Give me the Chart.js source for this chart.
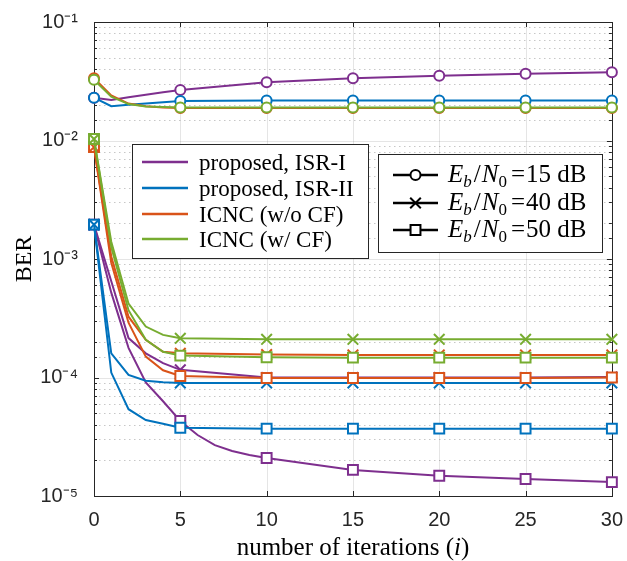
<!DOCTYPE html>
<html><head><meta charset="utf-8">
<script src="https://cdn.jsdelivr.net/npm/chart.js@4/dist/chart.umd.min.js"></script>
<style>html,body{margin:0;padding:0;background:#fff}#wrap{width:627px;height:561px;position:relative}</style>
</head><body><div id="wrap"><canvas id="c" width="627" height="561"></canvas></div>
<script>
// ---------- data ----------
const iters = [0, 1, 2, 3, 4, 5, 10, 15, 20, 25, 30];
const itersFine = [0, 1, 2, 3, 4, 5, 6, 7, 8, 9, 10, 15, 20, 25, 30];
const xTicks = [0, 5, 10, 15, 20, 25, 30];
const methodNames = ['proposed, ISR-I', 'proposed, ISR-II', 'ICNC (w/o CF)', 'ICNC (w/ CF)'];
const snrValues = ['15', '40', '50'];

// Eb/N0 = 15 dB
const isr1_15 = [0.023, 0.022, 0.0232, 0.0243, 0.0255, 0.0267, 0.031, 0.0335, 0.0352, 0.0366, 0.0376];
const isr2_15 = [0.023, 0.0195, 0.0200, 0.0205, 0.0210, 0.0215, 0.0218, 0.0218, 0.0218, 0.0218, 0.0218];
const icncNoCf_15 = [0.0335, 0.0240, 0.0205, 0.0195, 0.0190, 0.0188, 0.0188, 0.0188, 0.0188, 0.0188, 0.0188];
const icncCf_15 = [0.0325, 0.0234, 0.0203, 0.0194, 0.0192, 0.0190, 0.0190, 0.0190, 0.0190, 0.0190, 0.0190];
// Eb/N0 = 40 dB
const isr1_40 = [0.00195, 6.5e-4, 2.15e-4, 1.6e-4, 1.32e-4, 1.16e-4, 1.0e-4, 1.0e-4, 1.0e-4, 1.0e-4, 1.01e-4];
const isr2_40 = [0.00195, 1.6e-4, 1.05e-4, 9.4e-5, 9.1e-5, 9.0e-5, 9.0e-5, 9.0e-5, 9.0e-5, 9.0e-5, 9.0e-5];
const icncNoCf_40 = [0.0088, 1.05e-3, 3.26e-4, 2.08e-4, 1.65e-4, 1.6e-4, 1.56e-4, 1.55e-4, 1.55e-4, 1.55e-4, 1.55e-4];
const icncCf_40 = [0.0103, 1.4e-3, 4.2e-4, 2.69e-4, 2.29e-4, 2.14e-4, 2.1e-4, 2.1e-4, 2.1e-4, 2.1e-4, 2.1e-4];
// Eb/N0 = 50 dB
const isr1_50 = [0.00195, 5.2e-4, 1.78e-4, 9.1e-5, 6.3e-5, 4.3e-5, 3.27e-5, 2.69e-5, 2.4e-5, 2.22e-5, 2.09e-5, 1.66e-5, 1.48e-5, 1.39e-5, 1.31e-5];
const isr2_50 = [0.00195, 1.1e-4, 5.4e-5, 4.37e-5, 4.07e-5, 3.77e-5, 3.7e-5, 3.7e-5, 3.7e-5, 3.7e-5, 3.7e-5];
const icncNoCf_50 = [0.0088, 9.3e-4, 2.9e-4, 1.5e-4, 1.15e-4, 1.03e-4, 9.9e-5, 9.9e-5, 9.9e-5, 9.9e-5, 1.0e-4];
const icncCf_50 = [0.0103, 1.26e-3, 3.7e-4, 2.08e-4, 1.65e-4, 1.53e-4, 1.48e-4, 1.47e-4, 1.47e-4, 1.47e-4, 1.47e-4];

// ---------- styling ----------
const COLORS = ['#7E2F8E', '#0072BD', '#D95319', '#77AC30'];
const MARKERS = ['circle', 'crossRot', 'rect'];
const MARKER_R = { circle: 5, crossRot: 7.5, rect: 7 };
const SANS = '"Liberation Sans", Arial, sans-serif';
const SERIF = '"Liberation Serif", "Times New Roman", serif';

function mk(label, xs, ys, colorIdx, markerIdx) {
  const marker = MARKERS[markerIdx];
  return {
    label,
    data: xs.map((x, i) => ({ x, y: ys[i] })),
    borderColor: COLORS[colorIdx],
    backgroundColor: '#ffffff',
    borderWidth: 2,
    pointStyle: marker,
    pointRadius: (ctx) => (ctx.raw && ctx.raw.x % 5 === 0) ? MARKER_R[marker] : 0,
    pointHoverRadius: 0,
    pointBorderWidth: 2,
    pointBackgroundColor: '#ffffff',
    pointBorderColor: COLORS[colorIdx],
    tension: 0,
    fill: false,
    clip: false
  };
}

// drawn order: earlier datasets on top in Chart.js -> green first
const datasets = [
  mk('ICNC (w/ CF), 15 dB', iters, icncCf_15, 3, 0),
  mk('ICNC (w/ CF), 40 dB', iters, icncCf_40, 3, 1),
  mk('ICNC (w/ CF), 50 dB', iters, icncCf_50, 3, 2),
  mk('ICNC (w/o CF), 15 dB', iters, icncNoCf_15, 2, 0),
  mk('ICNC (w/o CF), 40 dB', iters, icncNoCf_40, 2, 1),
  mk('ICNC (w/o CF), 50 dB', iters, icncNoCf_50, 2, 2),
  mk('proposed, ISR-II, 15 dB', iters, isr2_15, 1, 0),
  mk('proposed, ISR-II, 40 dB', iters, isr2_40, 1, 1),
  mk('proposed, ISR-II, 50 dB', iters, isr2_50, 1, 2),
  mk('proposed, ISR-I, 15 dB', iters, isr1_15, 0, 0),
  mk('proposed, ISR-I, 40 dB', iters, isr1_40, 0, 1),
  mk('proposed, ISR-I, 50 dB', itersFine, isr1_50, 0, 2)
];

const SUP = { '-': '\u207B', '0': '\u2070', '1': '\u00B9', '2': '\u00B2', '3': '\u00B3', '4': '\u2074', '5': '\u2075' };
function isDecade(v) { const e = Math.round(Math.log10(v)); return Math.abs(v / Math.pow(10, e) - 1) < 1e-6; }

function drawMarker(ctx, style, x, y, r) {
  ctx.beginPath();
  if (style === 'circle') { ctx.arc(x, y, r, 0, Math.PI * 2); ctx.fill(); ctx.stroke(); }
  else if (style === 'rect') { const s = r * Math.SQRT1_2; ctx.rect(x - s, y - s, 2 * s, 2 * s); ctx.fill(); ctx.stroke(); }
  else { const s = r * Math.SQRT1_2; ctx.moveTo(x - s, y - s); ctx.lineTo(x + s, y + s); ctx.moveTo(x + s, y - s); ctx.lineTo(x - s, y + s); ctx.stroke(); }
}

const axesPlugin = {
  id: 'matlabAxes',
  beforeDatasetsDraw(chart) {
    const { ctx, chartArea: { left, right, top, bottom }, scales: { x, y } } = chart;
    ctx.save();
    ctx.lineWidth = 1;
    // vertical grid
    ctx.strokeStyle = 'rgba(0,0,0,0.1)';
    xTicks.forEach(t => {
      const px = Math.round(x.getPixelForValue(t)) + 0.5;
      ctx.beginPath(); ctx.moveTo(px, top); ctx.lineTo(px, bottom); ctx.stroke();
    });
    // horizontal grid
    y.ticks.forEach(t => {
      const py = Math.round(y.getPixelForValue(t.value)) + 0.5;
      if (isDecade(t.value)) { ctx.setLineDash([]); ctx.strokeStyle = 'rgba(0,0,0,0.1)'; }
      else { ctx.setLineDash([1.5, 3.5]); ctx.strokeStyle = 'rgba(0,0,0,0.22)'; }
      ctx.beginPath(); ctx.moveTo(left, py); ctx.lineTo(right, py); ctx.stroke();
    });
    ctx.setLineDash([]);
    // box
    ctx.strokeStyle = '#262626';
    ctx.strokeRect(Math.round(left) + 0.5, Math.round(top) + 0.5, Math.round(right - left), Math.round(bottom - top));
    // ticks
    ctx.beginPath();
    xTicks.forEach(t => {
      const px = Math.round(x.getPixelForValue(t)) + 0.5;
      ctx.moveTo(px, bottom); ctx.lineTo(px, bottom - 5);
      ctx.moveTo(px, top); ctx.lineTo(px, top + 5);
    });
    y.ticks.forEach(t => {
      const py = Math.round(y.getPixelForValue(t.value)) + 0.5;
      const len = isDecade(t.value) ? 5 : 3;
      ctx.moveTo(left, py); ctx.lineTo(left + len, py);
      ctx.moveTo(right, py); ctx.lineTo(right - len, py);
    });
    ctx.stroke();
    ctx.restore();
  },
  afterDatasetsDraw(chart) {
    const { ctx, chartArea: { left, right, top, bottom } } = chart;
    ctx.save();
    // ----- legend 1: methods -----
    ctx.fillStyle = '#fff'; ctx.strokeStyle = '#262626'; ctx.lineWidth = 1;
    ctx.fillRect(132, 144, 236, 114); ctx.strokeRect(132.5, 144.5, 236, 114);
    const ly = [162, 188, 214, 239];
    ctx.font = '23px ' + SERIF; ctx.textBaseline = 'alphabetic'; ctx.textAlign = 'left';
    methodNames.forEach((n, i) => {
      ctx.strokeStyle = COLORS[i]; ctx.lineWidth = 2.5;
      ctx.beginPath(); ctx.moveTo(142, ly[i]); ctx.lineTo(188, ly[i]); ctx.stroke();
      ctx.fillStyle = '#000'; ctx.fillText(n, 199, ly[i] + 8);
    });
    // ----- legend 2: Eb/N0 -----
    ctx.fillStyle = '#fff'; ctx.strokeStyle = '#262626'; ctx.lineWidth = 1;
    ctx.fillRect(378, 154, 224, 98); ctx.strokeRect(378.5, 154.5, 224, 98);
    const ly2 = [175, 203, 230];
    snrValues.forEach((v, i) => {
      ctx.strokeStyle = '#000'; ctx.lineWidth = 2.5;
      ctx.beginPath(); ctx.moveTo(393, ly2[i]); ctx.lineTo(438, ly2[i]); ctx.stroke();
      ctx.fillStyle = '#fff'; ctx.lineWidth = 2;
      drawMarker(ctx, MARKERS[i], 415.5, ly2[i], MARKER_R[MARKERS[i]]);
      let cx = 448; const base = ly2[i] + 7;
      const parts = [
        ['E', 'italic 25px ' + SERIF, 0, 0],
        ['b', 'italic 17px ' + SERIF, 5, 2],
        ['/', '25px ' + SERIF, 0, 1],
        ['N', 'italic 25px ' + SERIF, 0, 0],
        ['0', '17px ' + SERIF, 5, 4],
        ['=', '25px ' + SERIF, 0, 1],
        [v, '25px ' + SERIF, 0, 0],
        [' dB', '25px ' + SERIF, 0, 0]
      ];
      ctx.fillStyle = '#000';
      parts.forEach(([t, f, dy, gap]) => { ctx.font = f; ctx.fillText(t, cx, base + dy); cx += ctx.measureText(t).width + gap; });
    });
    // ----- axis titles -----
    ctx.fillStyle = '#000';
    const fs = 25;
    ctx.font = fs + 'px ' + SERIF;
    const t1 = 'number of iterations (', t2 = 'i', t3 = ')';
    const w1 = ctx.measureText(t1).width, w3 = ctx.measureText(t3).width;
    ctx.font = 'italic ' + fs + 'px ' + SERIF; const w2 = ctx.measureText(t2).width;
    let sx = (left + right) / 2 - (w1 + w2 + w3) / 2;
    ctx.font = fs + 'px ' + SERIF; ctx.fillText(t1, sx, 555);
    ctx.font = 'italic ' + fs + 'px ' + SERIF; ctx.fillText(t2, sx + w1, 555);
    ctx.font = fs + 'px ' + SERIF; ctx.fillText(t3, sx + w1 + w2, 555);
    ctx.save();
    ctx.translate(31, (top + bottom) / 2); ctx.rotate(-Math.PI / 2);
    ctx.textAlign = 'center'; ctx.font = '24px ' + SERIF; ctx.fillText('BER', 0, 0);
    ctx.restore();
    ctx.restore();
  }
};

new Chart(document.getElementById('c'), {
  type: 'line',
  data: { datasets },
  options: {
    responsive: false,
    animation: false,
    devicePixelRatio: 1,
    events: [],
    layout: { padding: { left: 0, right: 11, top: 22, bottom: 0 } },
    plugins: { legend: { display: false }, tooltip: { enabled: false } },
    scales: {
      x: {
        type: 'linear', min: 0, max: 30,
        afterBuildTicks: (s) => { s.ticks = xTicks.map(v => ({ value: v })); },
        afterFit: (s) => { s.height = 65; },
        grid: { display: false }, border: { display: false },
        ticks: { font: { family: SANS, size: 20 }, color: '#262626', padding: 4, maxRotation: 0 }
      },
      y: {
        type: 'logarithmic', min: 1e-5, max: 1e-1,
        afterFit: (s) => { s.width = 94; },
        grid: { display: false }, border: { display: false },
        ticks: {
          autoSkip: false, font: { family: SANS, size: 20 }, color: '#262626', padding: 8,
          callback: (v) => {
            if (!isDecade(v)) return '';
            const e = String(Math.round(Math.log10(v)));
            return '10' + e.split('').map(c => SUP[c]).join('');
          }
        }
      }
    }
  },
  plugins: [axesPlugin]
});
</script>
</body></html>
